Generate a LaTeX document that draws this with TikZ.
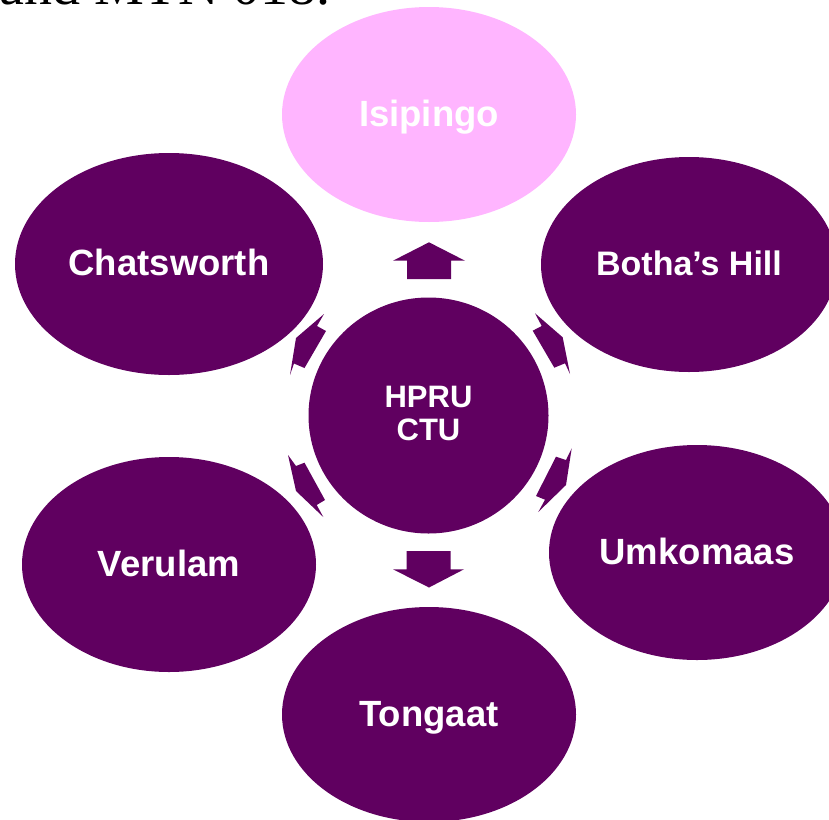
\documentclass[tikz,border=0pt]{standalone}
\usepackage{fontspec}
\setmainfont{Liberation Serif}
\newfontfamily\labfont{Liberation Sans}
\usetikzlibrary{shapes.geometric}
\definecolor{plum}{RGB}{96,0,96}
\definecolor{pinkish}{RGB}{255,181,255}
\tikzset{
  site/.style={ellipse, fill=plum, inner sep=0pt, text=white, text height=27pt, text depth=4pt,
    font=\labfont\bfseries\fontsize{36.5}{40}\selectfont},
  hubstyle/.style={ellipse, fill=plum, inner sep=0pt},
  hublabel/.style={text=white, align=center, inner sep=0pt,
    font=\labfont\bfseries\fontsize{31}{33}\selectfont},
  blockarrow/.style={fill=plum, draw=none},
}
\begin{document}
\begin{tikzpicture}[x=1pt,y=-1pt]
\useasboundingbox (0,0) rectangle (829,819);
\clip (0,0) rectangle (829,819);
\node[anchor=base west, inner sep=0pt, font=\fontsize{56}{60}\selectfont] (cap) at (-1,5) {and MTN 018.};
\node[site, fill=pinkish, minimum width=294pt, minimum height=215pt] (isi) at (429,114.5) {Isipingo};
\node[site, minimum width=308pt, minimum height=222pt] (chat) at (169,264) {Chatsworth};
\node[site, minimum width=296pt, minimum height=215pt, font=\labfont\bfseries\fontsize{34}{38}\selectfont, text height=25pt] (botha) at (689,264.5) {Botha’s Hill};
\node[site, minimum width=294pt, minimum height=215pt] (veru) at (169,564.5) {Verulam};
\node[site, minimum width=296pt, minimum height=215pt] (umko) at (697,552.5) {Umkomaas};
\node[site, minimum width=294pt, minimum height=215pt] (tong) at (429,714.5) {Tongaat};
\node[hubstyle, minimum width=240pt, minimum height=236pt] (hub) at (428.5,415.5) {};
\node[hublabel] (hubtext) at (hub.center) [yshift=2.5pt] {HPRU\\CTU};
% up arrow
\fill[blockarrow] (429,242.3) -- (465,260.7) -- (451,260.7) -- (451,279) -- (407,279) -- (407,260.7) -- (393,260.7) -- cycle;
% down arrow
\fill[blockarrow] (406.7,551) -- (450.7,551) -- (450.7,569.3) -- (464,569.3) -- (429,587.5) -- (393,569.3) -- (406.7,569.3) -- cycle;
% upper right
\fill[blockarrow] (535,313.3) -- (562.7,337.3) -- (570,374) -- (565,363.3) -- (554.3,367.7) -- (532.7,330.7) -- (541.7,326) -- cycle;
% lower right
\fill[blockarrow] (571.7,448.3) -- (566,485) -- (538.3,512) -- (545,499.7) -- (536,496) -- (556,456.7) -- (566,460) -- cycle;
% upper left
\fill[blockarrow] (324,314) -- (296,338) -- (290,375) -- (294,363.5) -- (304.5,368) -- (326,331) -- (317,326) -- cycle;
% lower left
\fill[blockarrow] (288,455) -- (296,466) -- (304.5,462.7) -- (325,500) -- (316.7,505) -- (323.3,517) -- (296,491) -- cycle;
\end{tikzpicture}
\end{document}
